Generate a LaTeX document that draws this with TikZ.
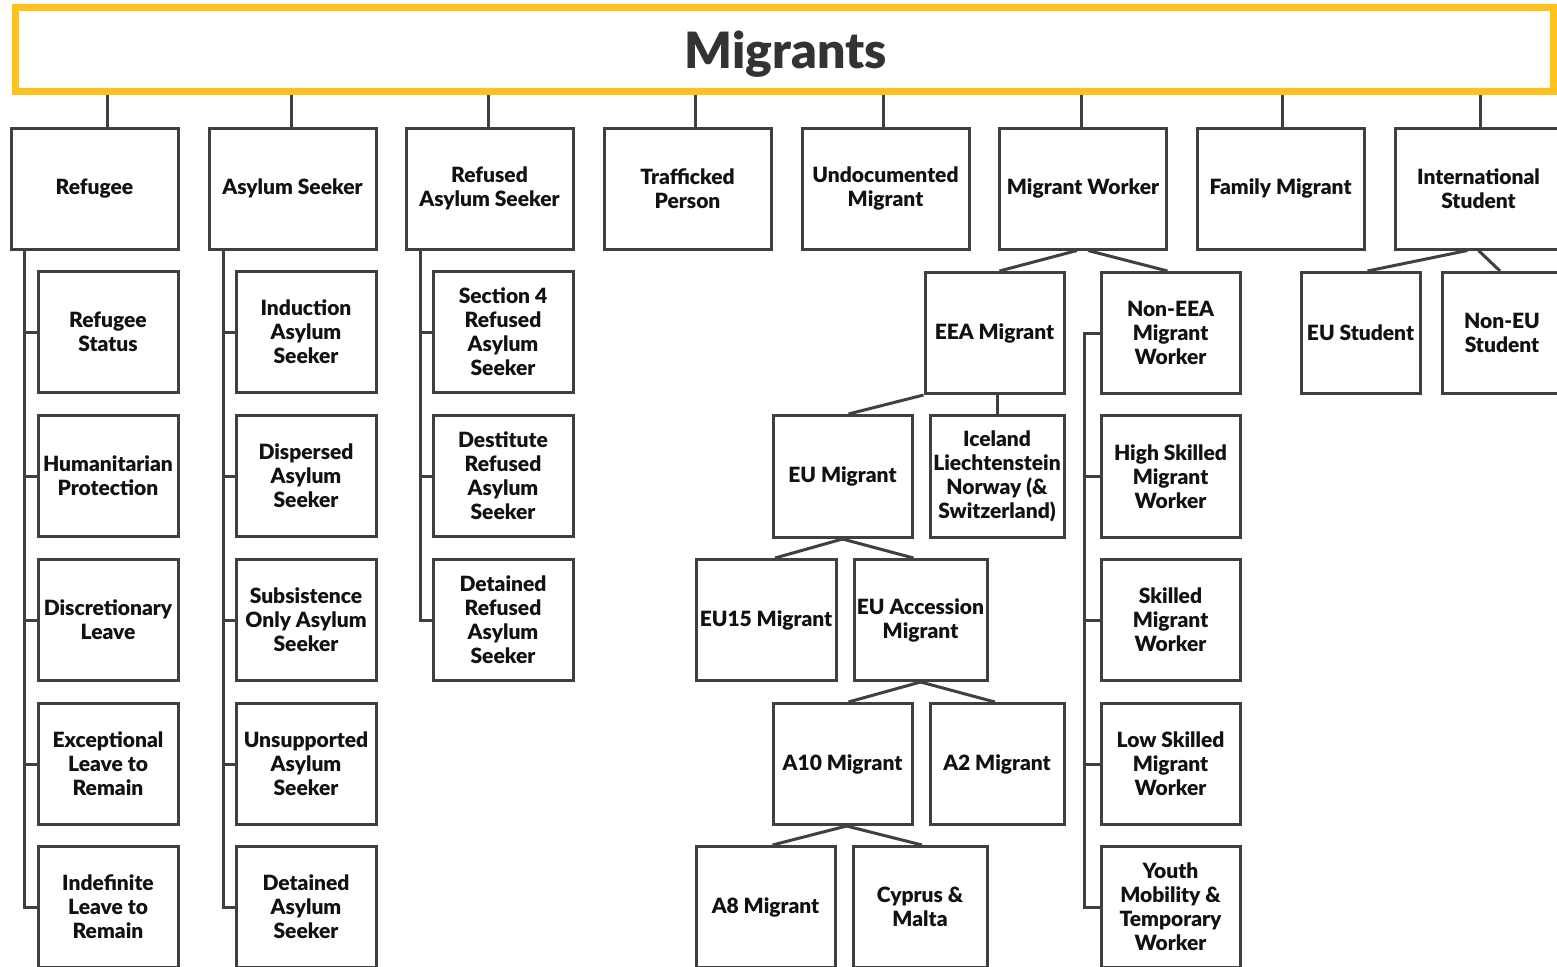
\documentclass[tikz,border=0pt]{standalone}
\usepackage{fontspec}
\setmainfont{Lato}[BoldFont={Lato Black}]
\begin{document}
\begin{tikzpicture}[x=1pt,y=-1pt,
  box/.style={draw=linegray,line width=3pt,fill=white,inner sep=0pt,align=center,
    font=\fontsize{21}{24}\selectfont\bfseries,text=black!93},
  top/.style={box,minimum width=167pt,minimum height=121pt},
  kid/.style={box,minimum width=140pt,minimum height=121pt},
  con/.style={draw=linegray,line width=3pt}]
\definecolor{linegray}{HTML}{404040}
\definecolor{banneryellow}{HTML}{FFC21C}
\useasboundingbox (0,0) rectangle (1557,966);
\clip (0,0) rectangle (1557,966);
% banner
\node[draw=banneryellow,line width=7pt,minimum width=1538pt,minimum height=83pt,inner sep=0pt] (mig) at (784.5,49.5) {};
\node[font=\fontsize{50}{56}\selectfont\bfseries,text=black!80,inner sep=0pt] (migt) at (786,54) {Migrants};
% top row
\node[top] (ref) at (94.5,188.5) {Refugee};
\node[top] (asy) at (292.5,188.5) {Asylum Seeker};
\node[top] (rfa) at (489.5,188.5) {Refused\\Asylum Seeker};
\node[top] (traf) at (687.5,188.5) {Trafficked\\Person};
\node[top] (undoc) at (885.5,188.5) {Undocumented\\Migrant};
\node[top] (mw) at (1083,188.5) {Migrant Worker};
\node[top] (fam) at (1280.5,188.5) {Family Migrant};
\node[top] (intl) at (1478.5,188.5) {International\\Student};
% banner connectors
\foreach \n/\x in {ref/107,asy/291,rfa/488,traf/695,undoc/883,mw/1081,fam/1282,intl/1480}
  \draw[con] (mig.south -| \x,0) -- (\n.north -| \x,0);
% refugee column
\node[kid] (r1) at (108,332) {Refugee\\Status};
\node[kid] (r2) at (108,476) {Humanitarian\\Protection};
\node[kid] (r3) at (108,620) {Discretionary\\Leave};
\node[kid] (r4) at (108,764) {Exceptional\\Leave to\\Remain};
\node[kid] (r5) at (108,907) {Indefinite\\Leave to\\Remain};
\coordinate (rs) at (24,249);
\draw[con] (rs) |- (r5.west);
\foreach \n in {r1,r2,r3,r4} \draw[con] (rs |- \n.west) -- (\n.west);
% asylum column
\node[kid] (a1) at (306,332) {Induction\\Asylum\\Seeker};
\node[kid] (a2) at (306,476) {Dispersed\\Asylum\\Seeker};
\node[kid] (a3) at (306,620) {Subsistence\\Only Asylum\\Seeker};
\node[kid] (a4) at (306,764) {Unsupported\\Asylum\\Seeker};
\node[kid] (a5) at (306,907) {Detained\\Asylum\\Seeker};
\coordinate (as) at (223,249);
\draw[con] (as) |- (a5.west);
\foreach \n in {a1,a2,a3,a4} \draw[con] (as |- \n.west) -- (\n.west);
% refused column
\node[kid] (f1) at (503,332) {Section 4\\Refused\\Asylum\\Seeker};
\node[kid] (f2) at (503,476) {Destitute\\Refused\\Asylum\\Seeker};
\node[kid] (f3) at (503,620) {Detained\\Refused\\Asylum\\Seeker};
\coordinate (fs) at (420,249);
\draw[con] (fs) |- (f3.west);
\foreach \n in {f1,f2} \draw[con] (fs |- \n.west) -- (\n.west);
% migrant worker subtree
\node[box,minimum width=139pt,minimum height=121pt] (eea) at (994.5,333) {EEA Migrant};
\node[box,minimum width=139pt,minimum height=121pt] (neea) at (1170.5,333) {Non-EEA\\Migrant\\Worker};
\node[box,minimum width=139pt,minimum height=122pt] (hi) at (1170.5,476.5) {High Skilled\\Migrant\\Worker};
\node[box,minimum width=139pt,minimum height=121pt] (sk) at (1170.5,620) {Skilled\\Migrant\\Worker};
\node[box,minimum width=139pt,minimum height=121pt] (lo) at (1170.5,764) {Low Skilled\\Migrant\\Worker};
\node[box,minimum width=139pt,minimum height=121pt] (yo) at (1170.5,907) {Youth\\Mobility \&\\Temporary\\Worker};
\coordinate (ns) at (1084,333);
\draw[con] (neea.west) -- (ns) |- (yo.west);
\foreach \n in {hi,sk,lo} \draw[con] (ns |- \n.west) -- (\n.west);
\draw[con] ([xshift=-6pt]mw.south) -- ([xshift=5pt]eea.north);
\draw[con] ([xshift=5pt]mw.south) -- ([xshift=-3pt]neea.north);
\node[box,minimum width=139pt,minimum height=122pt] (eu) at (842.5,476.5) {EU Migrant};
\node[box,minimum width=134pt,minimum height=122pt] (ice) at (997,476.5) {Iceland\\Liechtenstein\\Norway (\&\\Switzerland)};
\draw[con] (eea.south west) -- ([xshift=6pt]eu.north);
\draw[con] (eea.south -| ice.north) -- (ice.north);
\node[box,minimum width=140pt,minimum height=121pt] (eu15) at (766,620) {EU15 Migrant};
\node[box,minimum width=133pt,minimum height=121pt] (acc) at (920.5,620) {EU Accession\\Migrant};
\draw[con] (eu.south) -- ([xshift=9pt]eu15.north);
\draw[con] (eu.south) -- ([xshift=-7pt]acc.north);
\node[box,minimum width=139pt,minimum height=121pt] (a10) at (842.5,764) {A10 Migrant};
\node[box,minimum width=134pt,minimum height=121pt] (a2m) at (997,764) {A2 Migrant};
\draw[con] (acc.south) -- ([xshift=6pt]a10.north);
\draw[con] (acc.south) -- ([xshift=-2pt]a2m.north);
\node[box,minimum width=139pt,minimum height=121pt] (a8) at (765.5,907) {A8 Migrant};
\node[box,minimum width=134pt,minimum height=121pt] (cyp) at (920,907) {Cyprus \&\\Malta};
\draw[con] ([xshift=4pt]a10.south) -- ([xshift=7pt]a8.north);
\draw[con] ([xshift=4pt]a10.south) -- ([xshift=2pt]cyp.north);
% international students
\node[box,minimum width=119pt,minimum height=121pt] (eus) at (1360.5,333) {EU Student};
\node[box,minimum width=120pt,minimum height=121pt,text width=118pt] (neu) at (1502,333) {Non-EU\\Student};
\draw[con] ([xshift=-11pt]intl.south) -- ([xshift=7pt]eus.north);
\draw[con] ([xshift=0pt]intl.south) -- ([xshift=-2pt]neu.north);
\end{tikzpicture}
\end{document}
